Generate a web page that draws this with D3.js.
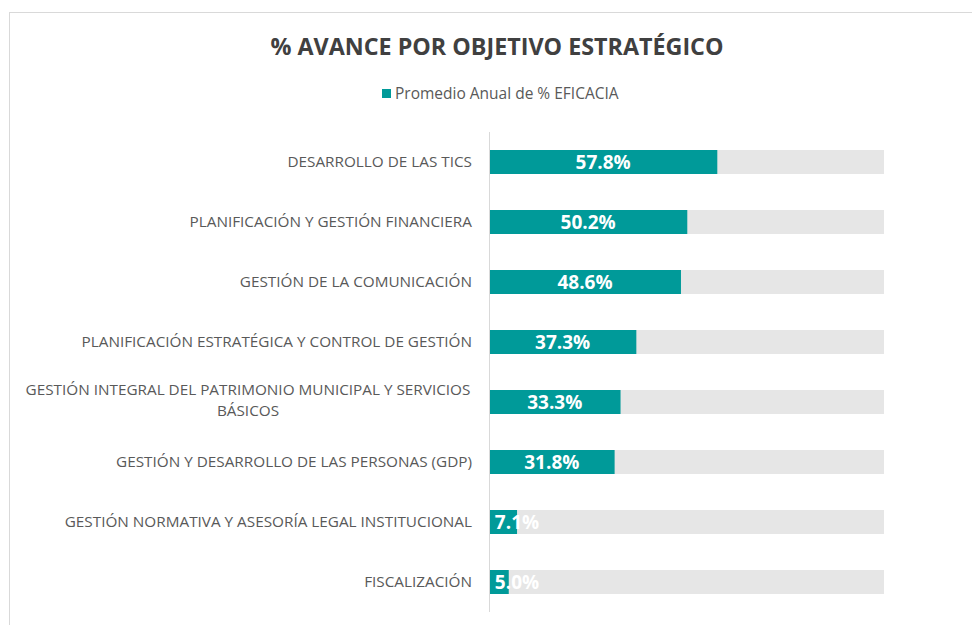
<!DOCTYPE html>
<html>
<head>
<meta charset="utf-8">
<script src="https://cdn.jsdelivr.net/npm/d3@7"></script>
<style>
  body { margin: 0; background: #fff; }
  svg text { font-family: "Open Sans", "Noto Sans", sans-serif; }
</style>
</head>
<body>
<div id="chart"></div>
<script>
// data
var categories = [
       ["DESARROLLO DE LAS TICS"],
       ["PLANIFICACIÓN Y GESTIÓN FINANCIERA"],
       ["GESTIÓN DE LA COMUNICACIÓN"],
       ["PLANIFICACIÓN ESTRATÉGICA Y CONTROL DE GESTIÓN"],
       ["GESTIÓN INTEGRAL DEL PATRIMONIO MUNICIPAL Y SERVICIOS", "BÁSICOS"],
       ["GESTIÓN Y DESARROLLO DE LAS PERSONAS (GDP)"],
       ["GESTIÓN NORMATIVA Y ASESORÍA LEGAL INSTITUCIONAL"],
       ["FISCALIZACIÓN"]
];
var eficacia = [57.8, 50.2, 48.6, 37.3, 33.3, 31.8, 7.1, 5.0];
var seriesName = "Promedio Anual de % EFICACIA";
var title = "% AVANCE POR OBJETIVO ESTRATÉGICO";

var W = 972, H = 625;
var teal = "#009a99", grey = "#e6e6e6", textCol = "#595959";

var svg = d3.select("#chart").append("svg")
       .attr("width", W)
       .attr("height", H);

// chart frame
svg.append("rect")
       .attr("x", 9.5).attr("y", 12.5)
       .attr("width", W + 10).attr("height", H + 10)
       .style("fill", "none")
       .style("stroke", "#d9d9d9");

svg.append("text")
       .attr("x", 497).attr("y", 55)
       .attr("text-anchor", "middle")
       .style("font-size", "23.3px")
       .style("font-weight", "bold")
       .style("fill", "#404040")
       .text(title);

// legend
svg.append("rect")
       .attr("x", 382).attr("y", 89)
       .attr("width", 9).attr("height", 9)
       .style("fill", teal);
svg.append("text")
       .attr("x", 395).attr("y", 99)
       .style("font-size", "15.5px")
       .style("fill", textCol)
       .text(seriesName);

var x = d3.scaleLinear().domain([0, 100]).range([489, 884]);
var y = d3.scaleBand()
       .domain(d3.range(categories.length))
       .range([132, 612])
       .paddingInner(0.6)
       .paddingOuter(0.3);

var g = svg.append("g");

// background (100%)
g.selectAll(".bg").data(eficacia).join("rect")
       .attr("class", "bg")
       .attr("x", x(0))
       .attr("y", (d, i) => y(i))
       .attr("width", x(100) - x(0))
       .attr("height", y.bandwidth())
       .style("fill", grey);

g.selectAll(".bar").data(eficacia).join("rect")
       .attr("class", "bar")
       .attr("x", x(0))
       .attr("y", (d, i) => y(i))
       .attr("width", d => x(d) - x(0))
       .attr("height", y.bandwidth())
       .style("fill", teal);

// axis line
svg.append("line")
       .attr("x1", x(0) + 0.5).attr("x2", x(0) + 0.5)
       .attr("y1", 132).attr("y2", 612)
       .style("stroke", "#d9d9d9");

// value labels
g.selectAll(".val").data(eficacia).join("text")
       .attr("class", "val")
       .attr("x", d => Math.max((x(0) + x(d)) / 2, x(0) + 28))
       .attr("y", (d, i) => y(i) + y.bandwidth() / 2 + 7)
       .attr("text-anchor", "middle")
       .style("font-size", "19px")
       .style("font-weight", "bold")
       .style("fill", "#fff")
       .text(d => d.toFixed(1) + "%");

// category labels
categories.forEach(function (lines, i) {
       var cy = y(i) + y.bandwidth() / 2;
       var t = svg.append("text")
              .style("font-size", "15.3px")
              .style("fill", textCol);
       if (lines.length == 1) {
              t.attr("x", 472).attr("y", cy + 5)
                     .attr("text-anchor", "end")
                     .text(lines[0]);
       } else {
              lines.forEach(function (l, k) {
                     t.append("tspan")
                            .attr("x", 248)
                            .attr("y", cy - 7 + k * 21)
                            .attr("text-anchor", "middle")
                            .text(l);
              });
       }
});
</script>
</body>
</html>
